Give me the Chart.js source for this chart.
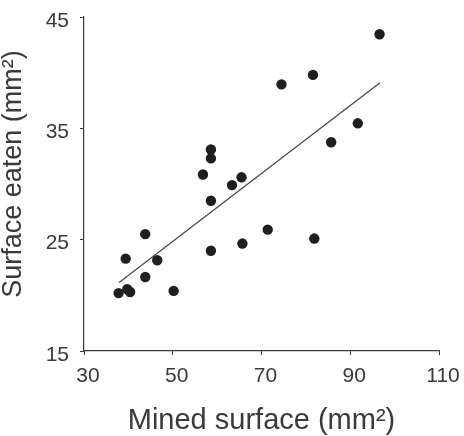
<!DOCTYPE html>
<html>
<head>
<meta charset="utf-8">
<script src="https://cdn.jsdelivr.net/npm/chart.js@4/dist/chart.umd.min.js"></script>
<style>
    body { margin: 0; background: #fff; }
    #chart_container { width: 464px; height: 436px; }
</style>
</head>
<body>
<div id="chart_container">
    <canvas id="scatter_mined"></canvas>
</div>
<script>
    // mined surface (x) vs surface eaten (y), mm²
    const minedSurface = [37.8, 39.75, 40.4, 39.4, 43.8, 43.8, 46.5, 50.2, 58.6, 58.6, 56.8, 58.6,
                          58.6, 63.35, 65.5, 65.7, 71.4, 74.5, 81.6, 81.9, 85.7, 91.7, 96.6];
    const surfaceEaten = [20.2, 20.55, 20.3, 23.3, 25.5, 21.65, 23.15, 20.4, 24.0, 28.5, 30.85, 32.3,
                          33.1, 29.9, 30.6, 24.65, 25.9, 38.95, 39.8, 25.1, 33.75, 35.45, 43.45];
    // fitted line end points
    const fitX = [37.9, 96.7];
    const fitY = [21.15, 39.1];
    const xTicks = [30, 50, 70, 90, 110];
    const yTicks = [15, 25, 35, 45];

    const textColor = '#3a3a3a';
    const axisColor = '#3a3a3a';
    const fontFamily = 'Liberation Sans, Arial, sans-serif';

    // drop the auto padding chart.js adds for tick labels, layout.padding does the job
    function noLabelPadding(scale) {
        scale.paddingTop = 0;
        scale.paddingBottom = 0;
        scale.paddingLeft = 0;
        scale.paddingRight = 0;
    }

    const ctx = document.getElementById('scatter_mined');
    new Chart(ctx, {
        type: 'scatter',
        data: {
            datasets: [
                {
                    label: 'observed',
                    data: minedSurface.map((x, i) => ({ x: x, y: surfaceEaten[i] })),
                    pointRadius: 5.2,
                    pointBackgroundColor: '#1f1f1f',
                    pointBorderWidth: 0,
                },
                {
                    label: 'fit',
                    type: 'line',
                    data: fitX.map((x, i) => ({ x: x, y: fitY[i] })),
                    borderColor: '#4a4a4a',
                    borderWidth: 1.3,
                    pointRadius: 0,
                    fill: false,
                },
            ]
        },
        options: {
            responsive: true,
            maintainAspectRatio: false,
            animation: false,
            layout: {
                padding: { top: 17, right: 25, left: 0, bottom: 0 },
            },
            plugins: {
                legend: { display: false },
                tooltip: { enabled: false },
            },
            scales: {
                x: {
                    type: 'linear',
                    min: 30,
                    max: 110,
                    afterBuildTicks: (scale) => { scale.ticks = xTicks.map(v => ({ value: v })); },
                    afterFit: (scale) => {
                        scale.height = 85;
                        noLabelPadding(scale);
                    },
                    grid: {
                        drawOnChartArea: false,
                        drawTicks: true,
                        tickLength: 4,
                        color: axisColor,
                    },
                    border: { display: true, color: axisColor, width: 1.2 },
                    ticks: {
                        color: textColor,
                        padding: 9,
                        labelOffset: 4,
                        maxRotation: 0,
                        font: { family: fontFamily, size: 21 },
                    },
                    title: {
                        display: true,
                        text: 'Mined surface (mm²)',
                        color: textColor,
                        padding: { top: 0, bottom: 1 },
                        font: { family: fontFamily, size: 29, lineHeight: 1 },
                    },
                },
                y: {
                    type: 'linear',
                    min: 15,
                    max: 45,
                    afterBuildTicks: (scale) => { scale.ticks = yTicks.map(v => ({ value: v })); },
                    afterFit: (scale) => {
                        scale.width = 84;
                        noLabelPadding(scale);
                        // title sits a bit above the middle of the axis in the figure
                        if (!scale._titleShifted) {
                            const drawTitle = scale.drawTitle.bind(scale);
                            scale.drawTitle = function () {
                                this.ctx.save();
                                this.ctx.translate(0, -10);
                                drawTitle();
                                this.ctx.restore();
                            };
                            scale._titleShifted = true;
                        }
                    },
                    grid: {
                        drawOnChartArea: false,
                        drawTicks: true,
                        tickLength: 4,
                        color: axisColor,
                    },
                    border: { display: true, color: axisColor, width: 1.2 },
                    ticks: {
                        color: textColor,
                        padding: 11,
                        labelOffset: 4,
                        font: { family: fontFamily, size: 21 },
                    },
                    title: {
                        display: true,
                        text: 'Surface eaten (mm²)',
                        color: textColor,
                        padding: { top: 0, bottom: 0 },
                        font: { family: fontFamily, size: 27, lineHeight: 1 },
                    },
                },
            },
        },
    });
</script>
</body>
</html>
